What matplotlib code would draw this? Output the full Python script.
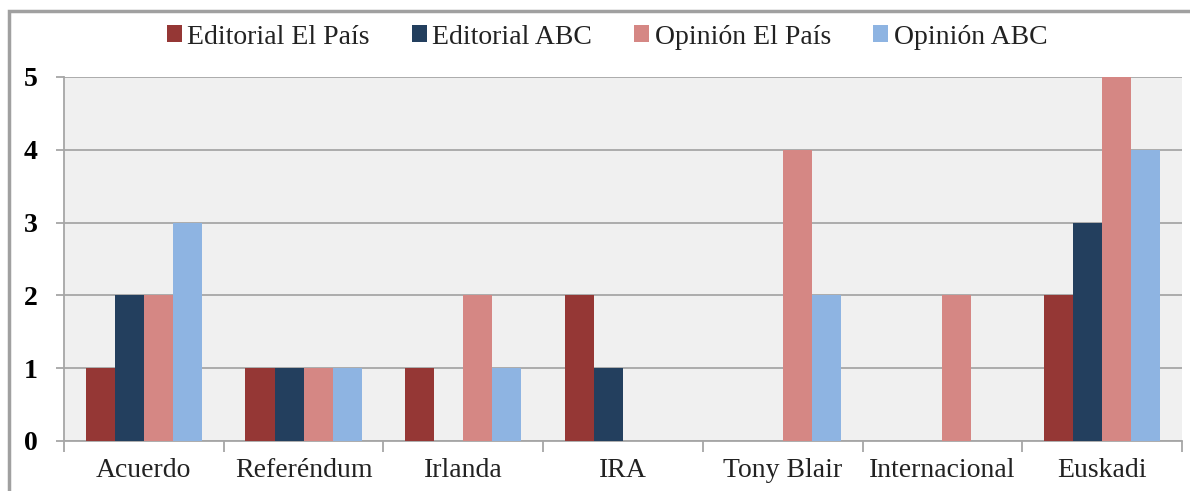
import numpy as np
import matplotlib.pyplot as plt
from matplotlib.patches import Rectangle

categories = ["Acuerdo", "Referéndum", "Irlanda", "IRA", "Tony Blair", "Internacional", "Euskadi"]
editorial_pais = [1, 1, 1, 2, 0, 0, 2]
editorial_abc = [2, 1, 0, 1, 0, 0, 3]
opinion_pais = [2, 1, 2, 0, 4, 2, 5]
opinion_abc = [3, 1, 1, 0, 2, 0, 4]

series = [
    ("Editorial El País", editorial_pais, "#953735"),
    ("Editorial ABC", editorial_abc, "#233F5E"),
    ("Opinión El País", opinion_pais, "#D58784"),
    ("Opinión ABC", opinion_abc, "#8EB4E2"),
]

plt.rcParams["font.family"] = ["Liberation Serif", "DejaVu Serif"]

W, H = 1190, 491
fig = plt.figure(figsize=(W / 100, H / 100), dpi=100)
ax = fig.add_axes([64 / W, 1 - 441 / H, (1182 - 64) / W, (441 - 77) / H])
ax.set_facecolor("#F0F0F0")

x = np.arange(len(categories))
bw = 0.182
for i, (name, vals, col) in enumerate(series):
    ax.bar(x + (i - 1.5) * bw, vals, bw, color=col, label=name,
           linewidth=0, zorder=3)

ax.set_xlim(-0.5, len(categories) - 0.5)
ax.set_ylim(0, 5)
ax.set_yticks(range(6))
ax.set_yticklabels([str(v) for v in range(6)], fontsize=20, fontweight="bold")
ax.yaxis.grid(True, color="#A6A6A6", linewidth=1.3, zorder=1)
ax.tick_params(axis="y", length=6, color="#A6A6A6", width=1.3, pad=13)

ax.set_xticks(x)
ax.set_xticklabels(categories, fontsize=20, color="#222222")
ax.set_xticks(np.arange(-0.5, len(categories)), minor=True)
ax.tick_params(axis="x", which="major", length=0, pad=12)
ax.tick_params(axis="x", which="minor", length=8, color="#A6A6A6", width=1.3)

for s in ["top", "right"]:
    ax.spines[s].set_visible(False)
ax.spines["left"].set_color("#A6A6A6")
ax.spines["left"].set_linewidth(1.3)
ax.spines["bottom"].set_color("#A6A6A6")
ax.spines["bottom"].set_linewidth(1.3)

leg = fig.legend(loc="center", bbox_to_anchor=(0.51, 1 - 37 / H), ncol=4,
                 frameon=False, fontsize=20, handlelength=0.55, handleheight=0.55,
                 handletextpad=0.2, columnspacing=1.5)
for t in leg.get_texts():
    t.set_color("#222222")

# outer frame (cropped at right and bottom)
fig.patches.append(Rectangle((9 / W, -0.05), 1.1, 1 - 11 / H + 0.05,
                             transform=fig.transFigure, fill=False,
                             edgecolor="#A0A0A0", linewidth=2.5))

fig.savefig("out.png", dpi=100)
